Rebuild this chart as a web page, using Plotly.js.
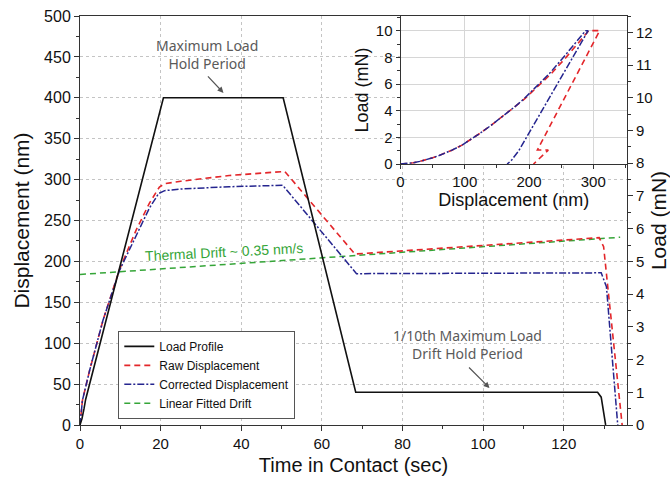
<!DOCTYPE html>
<html><head><meta charset="utf-8">
<script src="https://cdn.plot.ly/plotly-3.0.1.min.js"></script>
<style>html,body{margin:0;padding:0;background:#fff}#chart{width:670px;height:479px}</style>
</head><body><div id="chart"></div>
<script>
// ---- Main chart data (time in contact, s) ----
const loadTime = [0, 0.5, 1.0, 1.4, 20.7, 50.4, 68.4, 128.4, 129.3, 129.9, 130.4];
const loadMN   = [0, 0.2, 0.5, 0.78, 10, 10, 1, 1, 0.85, 0.45, 0];

const rawTime = [0, 0.6, 2.4, 5.7, 9.8, 13.9, 17.2, 19.7, 21, 25, 37, 50.8, 68.2, 128.8, 129.9, 134.5];
const rawNm   = [0, 30, 67, 128, 190, 238, 271, 291, 295, 298, 305, 310, 209, 229, 218, 0];

const corrTime = [0, 0.6, 2.4, 5.7, 9.8, 13.9, 17.2, 19.5, 21, 25, 37, 50.3, 68.6, 129.3, 130.6, 133.4];
const corrNm   = [0, 30, 67, 128, 189, 232, 265, 283, 286.5, 288.5, 291.3, 293, 185, 186, 169, 0];

const driftTime = [0, 134];
const driftNm   = [184, 229.5];

// ---- Inset data (displacement nm vs load mN) ----
const insetCorrDisp = [0, 10, 20, 30, 40, 50, 60, 70, 80, 95, 110, 125, 140, 154, 168, 180, 192, 213, 232, 251, 270, 288,
                       292, 268, 245, 221, 197, 184, 173, 166];
const insetCorrMN   = [0, 0.03, 0.1, 0.2, 0.32, 0.47, 0.64, 0.83, 1.04, 1.4, 1.85, 2.35, 2.87, 3.38, 3.9, 4.38, 4.88, 5.85, 6.8, 7.85, 8.95, 10,
                       10, 8, 6, 4, 2, 1, 0.3, 0];
const insetRawDisp  = [0, 10, 20, 30, 40, 50, 60, 70, 80, 95, 110, 125, 140, 154, 168, 180, 193, 215, 235, 255, 275, 293,
                       310, 213, 230, 207];
const insetRawMN    = [0, 0.03, 0.1, 0.2, 0.32, 0.47, 0.64, 0.83, 1.04, 1.4, 1.85, 2.35, 2.87, 3.38, 3.9, 4.38, 4.88, 5.85, 6.8, 7.85, 8.95, 10,
                       10, 1.05, 1.05, 0];

const names = ['Load Profile', 'Raw Displacement', 'Corrected Displacement', 'Linear Fitted Drift'];

const RED = '#e3262a', BLUE = '#25258f', GREEN = '#35a538', BLACK = '#111';
const FONT = 'Arial, "Liberation Sans", sans-serif';

const traces = [
  {x: driftTime, y: driftNm, name: names[3], mode: 'lines', legendrank: 4,
   line: {color: GREEN, width: 1.5, dash: '6px,4px'}, xaxis: 'x', yaxis: 'y'},
  {x: rawTime, y: rawNm, name: names[1], mode: 'lines', legendrank: 2,
   line: {color: RED, width: 1.6, dash: '6px,4px'}, xaxis: 'x', yaxis: 'y'},
  {x: corrTime, y: corrNm, name: names[2], mode: 'lines', legendrank: 3,
   line: {color: BLUE, width: 1.5, dash: '7px,2px,2px,2px'}, xaxis: 'x', yaxis: 'y'},
  {x: loadTime, y: loadMN, name: names[0], mode: 'lines', legendrank: 1,
   line: {color: BLACK, width: 1.6}, xaxis: 'x', yaxis: 'y2'},
  {x: insetRawDisp, y: insetRawMN, mode: 'lines', showlegend: false,
   line: {color: RED, width: 1.6, dash: '6px,4px'}, xaxis: 'x2', yaxis: 'y3'},
  {x: insetCorrDisp, y: insetCorrMN, mode: 'lines', showlegend: false,
   line: {color: BLUE, width: 1.5, dash: '7px,2px,2px,2px'}, xaxis: 'x2', yaxis: 'y3'}
];

const axisCommon = {showline: true, linecolor: '#333', linewidth: 1, ticks: 'outside',
  tickcolor: '#333', tickwidth: 1, ticklen: 5, zeroline: false};

const layout = {
  width: 670, height: 479,
  margin: {l: 80, r: 43, t: 16, b: 54},
  paper_bgcolor: '#fff', plot_bgcolor: '#fff',
  font: {family: FONT, color: '#111'},
  showlegend: true,
  legend: {x: 0.07, xanchor: 'left', y: 0.015, yanchor: 'bottom',
    bgcolor: '#fff', bordercolor: '#555', borderwidth: 1,
    font: {size: 12, family: FONT}, itemwidth: 30, traceorder: 'normal'},
  xaxis: Object.assign({}, axisCommon, {
    domain: [0, 1], range: [0, 135.7], dtick: 20, tick0: 0, mirror: true,
    showgrid: true, gridcolor: '#c4c4c4', griddash: 'dot', gridwidth: 1,
    minor: {dtick: 10, ticks: 'outside', ticklen: 3, tickcolor: '#333', showgrid: false},
    tickfont: {size: 15},
    title: {text: 'Time in Contact (sec)', font: {size: 20}, standoff: 6},
    anchor: 'y'}),
  yaxis: Object.assign({}, axisCommon, {
    domain: [0, 1], range: [0, 500], dtick: 50, tick0: 0,
    showgrid: true, gridcolor: '#c4c4c4', griddash: 'dot', gridwidth: 1,
    minor: {dtick: 25, ticks: 'outside', ticklen: 3, tickcolor: '#333', showgrid: false},
    tickfont: {size: 16},
    title: {text: 'Displacement (nm)', font: {size: 21}, standoff: 8},
    anchor: 'x'}),
  yaxis2: Object.assign({}, axisCommon, {
    overlaying: 'y', side: 'right', range: [0, 12.5], dtick: 1, tick0: 0,
    showgrid: false, anchor: 'x',
    minor: {dtick: 0.5, ticks: 'outside', ticklen: 3, tickcolor: '#333', showgrid: false},
    tickfont: {size: 15},
    title: {text: 'Load (mN)', font: {size: 21}, standoff: 9}}),
  xaxis2: Object.assign({}, axisCommon, {
    domain: [0.586, 1], range: [0, 352.5], dtick: 100, tick0: 0, mirror: true,
    showgrid: true, gridcolor: '#d6d6d6', gridwidth: 1, anchor: 'y3',
    minor: {dtick: 50, ticks: 'outside', ticklen: 3, tickcolor: '#333', showgrid: false},
    ticklen: 4, tickfont: {size: 15},
    title: {text: 'Displacement (nm)', font: {size: 18}, standoff: 2}}),
  yaxis3: Object.assign({}, axisCommon, {
    domain: [0.638, 1], range: [0, 11.1], dtick: 2, tick0: 0, mirror: true,
    showgrid: true, gridcolor: '#d6d6d6', gridwidth: 1, anchor: 'x2',
    minor: {dtick: 1, ticks: 'outside', ticklen: 3, tickcolor: '#333', showgrid: false},
    ticklen: 4, tickfont: {size: 15},
    title: {text: 'Load (mN)', font: {size: 18}, standoff: 2}}),
  annotations: [
    {xref: 'x', yref: 'y', x: 31.4, y: 453, text: 'Maximum Load<br>Hold Period', showarrow: false,
     font: {family: '"Noto Sans", sans-serif', size: 14, color: '#5a5a5a'}},
    {xref: 'x', yref: 'y', x: 35.6, y: 406, text: '', showarrow: true, ax: -17, ay: -18,
     arrowhead: 2, arrowsize: 1, arrowwidth: 1.2, arrowcolor: '#555'},
    {xref: 'x', yref: 'y', x: 96.2, y: 98.4, text: '1/10th Maximum Load<br>Drift Hold Period', showarrow: false,
     font: {family: '"Noto Sans", sans-serif', size: 14, color: '#5a5a5a'}},
    {xref: 'x', yref: 'y', x: 101.6, y: 45.2, text: '', showarrow: true, ax: -22, ay: -22,
     arrowhead: 2, arrowsize: 1, arrowwidth: 1.2, arrowcolor: '#555'},
    {xref: 'x', yref: 'y', x: 35.7, y: 211.5, text: 'Thermal Drift ~ 0.35 nm/s', showarrow: false,
     textangle: -3, font: {family: FONT, size: 14, color: GREEN}}
  ]
};

Plotly.newPlot('chart', traces, layout, {displayModeBar: false, staticPlot: true});
</script></body></html>
